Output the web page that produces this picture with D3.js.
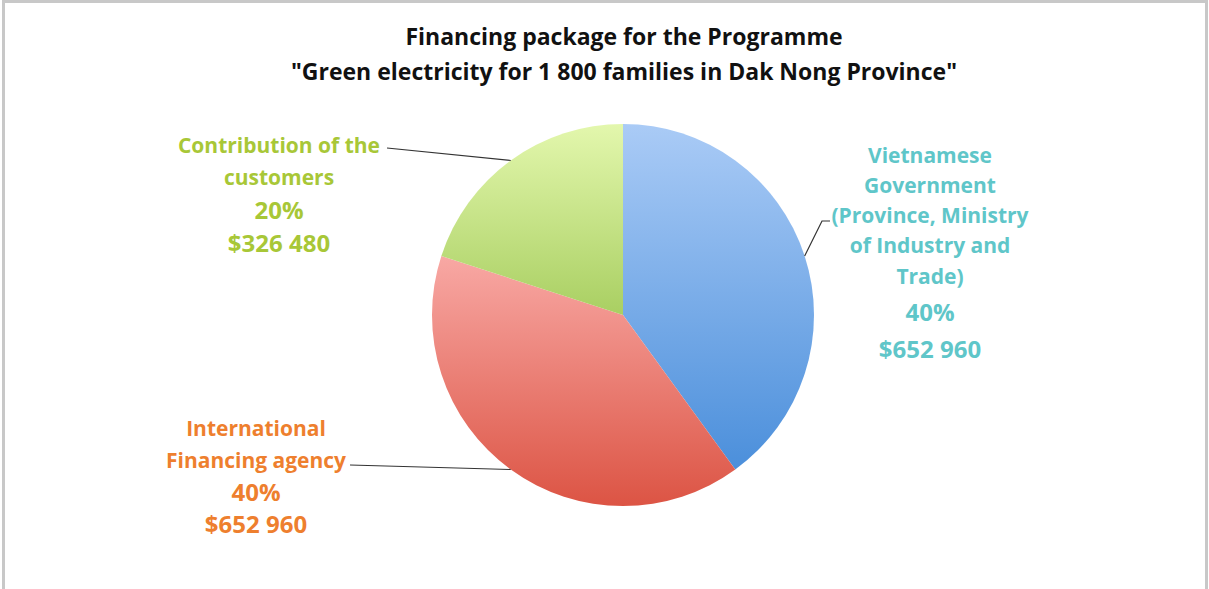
<!DOCTYPE html>
<html>
<head>
<meta charset="utf-8">
<script src="https://cdn.jsdelivr.net/npm/d3@7"></script>
<style>
  html, body { margin: 0; padding: 0; background: #fff; }
  svg { display: block; }
  text { font-family: "Open Sans", Lato, sans-serif; font-weight: bold; }
</style>
</head>
<body>
<svg id="chart" width="1209" height="589"></svg>
<script>
// ---- data ----
const titleLines = ["Financing package for the Programme", "\"Green electricity for 1 800 families in Dak Nong Province\""];
const categories = ["Vietnamese Government", "International Financing agency", "Contribution of the customers"];
const values = [652960, 652960, 326480];
const labelLines = [
  ["Vietnamese", "Government", "(Province, Ministry", "of Industry and", "Trade)"],
  ["International", "Financing agency"],
  ["Contribution of the", "customers"]
];
const percentLabels = ["40%", "40%", "20%"];
const amountLabels = ["$652 960", "$652 960", "$326 480"];

// ---- styles / layout ----
const W = 1209, H = 589;
const cx = 623, cy = 315, R = 191;
const gradStops = [
  ["#aacbf6", "#4b8fdb"],
  ["#f8a8a4", "#dc5444"],
  ["#e3f7ad", "#a9cf62"]
];
const textColors = ["#5fc6c9", "#ee7f2e", "#a8c737"];
const labelCfg = [
  { x: 930, y: 162.5, lh: 30.3, gap: 37.5, agap: 37, leaderEnd: [830, 221], bend: [822, 221] },
  { x: 256, y: 436, lh: 32, gap: 33, agap: 32, leaderEnd: [350, 465] },
  { x: 279, y: 153, lh: 32, gap: 34, agap: 33, leaderEnd: [387, 148] }
];

const svg = d3.select("#chart");

// frame
svg.append("rect").attr("x", 3.5).attr("y", 1.5).attr("width", 1203).attr("height", 592)
  .attr("fill", "#fff").attr("stroke", "#c8c8c8").attr("stroke-width", 3);

// gradients
const defs = svg.append("defs");
gradStops.forEach((s, i) => {
  const g = defs.append("linearGradient").attr("id", "g" + i)
    .attr("x1", 0).attr("y1", 0).attr("x2", 0).attr("y2", 1);
  g.append("stop").attr("offset", "0%").attr("stop-color", s[0]);
  g.append("stop").attr("offset", "100%").attr("stop-color", s[1]);
});

// title
svg.append("g").selectAll("text").data(titleLines).join("text")
  .attr("x", 624).attr("y", (d, i) => 45 + i * 35)
  .attr("text-anchor", "middle").attr("font-size", 23).attr("fill", "#111")
  .text(d => d);

// pie
const pie = d3.pie().sort(null).value(d => d);
const arcs = pie(values);
const arc = d3.arc().innerRadius(0).outerRadius(R);
const outer = d3.arc().innerRadius(R).outerRadius(R);

const g = svg.append("g").attr("transform", `translate(${cx},${cy})`);
g.selectAll("path").data(arcs).join("path")
  .attr("d", arc)
  .attr("fill", (d, i) => `url(#g${i})`);

// leader lines
arcs.forEach((a, i) => {
  const c = outer.centroid(a);
  const p0 = [cx + c[0], cy + c[1]];
  const cfg = labelCfg[i];
  let pts;
  if (cfg.bend) pts = [p0, cfg.bend, cfg.leaderEnd];
  else pts = [p0, cfg.leaderEnd];
  svg.append("path").attr("d", d3.line()(pts))
    .attr("fill", "none").attr("stroke", "#333").attr("stroke-width", 1.2);
});

// labels
labelCfg.forEach((cfg, i) => {
  const lg = svg.append("g").attr("fill", textColors[i]).attr("text-anchor", "middle");
  const lines = labelLines[i];
  lines.forEach((t, j) => {
    lg.append("text").attr("x", cfg.x).attr("y", cfg.y + j * cfg.lh)
      .attr("font-size", 21).text(t);
  });
  const yp = cfg.y + (lines.length - 1) * cfg.lh + cfg.gap;
  lg.append("text").attr("x", cfg.x).attr("y", yp).attr("font-size", 24).text(percentLabels[i]);
  lg.append("text").attr("x", cfg.x).attr("y", yp + cfg.agap).attr("font-size", 24).text(amountLabels[i]);
});
</script>
</body>
</html>
